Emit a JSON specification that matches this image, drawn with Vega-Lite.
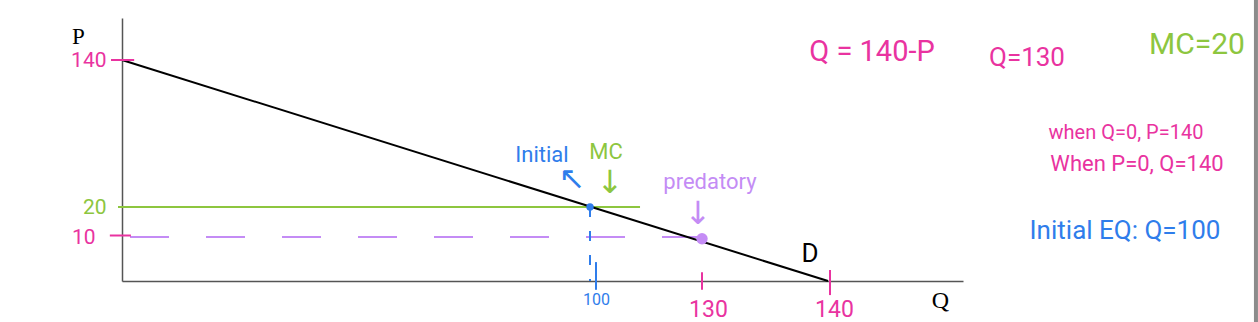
{
  "$schema": "https://vega.github.io/schema/vega-lite/v6.json",
  "width": 841,
  "height": 263,
  "autosize": {"type": "none"},
  "padding": {"left": 122, "top": 18, "right": 295, "bottom": 41},
  "background": "white",
  "config": {"view": {"stroke": null}},
  "datasets": {
    "demand": [{"Q": 0, "P": 140, "role": "curve"}, {"Q": 140, "P": 0, "role": "curve"}],
    "mc": [{"Q": 0, "P": 20, "role": "mc"}, {"Q": 113.4, "P": 20, "role": "mc"}],
    "pred": [{"Q": 0, "P": 10, "role": "predatory"}, {"Q": 130, "P": 10, "role": "predatory"}],
    "drop": [{"Q": 100, "P": 20, "role": "initial"}, {"Q": 100, "P": 0, "role": "initial"}],
    "eq": [{"Q": 100, "P": 20, "role": "initial"}, {"Q": 130, "P": 9.6, "role": "predatory"}],
    "frame": [{"Q": 171.7, "P": -15, "P2": 200, "role": "frame"}],
    "xticks": [
      {"Q": 101.6, "P": -2, "P2": 4.3, "role": "initial"},
      {"Q": 130, "P": -2, "P2": 2, "role": "given"},
      {"Q": 140.15, "P": -3.2, "P2": 2.5, "role": "given"}
    ],
    "yticks": [
      {"P": 140, "Q": -2.35, "Q2": 2.6, "role": "given"},
      {"P": 20, "Q": -0.85, "Q2": 1.3, "role": "mc"},
      {"P": 10.5, "Q": -2.6, "Q2": 1.9, "role": "given"}
    ],
    "notes": [
      {"Q": 143.26, "P": 146.5, "label": "Q = 140-P", "role": "given", "group": "headline"},
      {"Q": 154.74, "P": 141.6, "label": "Q=130", "role": "given", "group": "headline2"},
      {"Q": 167.33, "P": 152.1, "label": "MC=20", "role": "mc", "group": "headline3"},
      {"Q": 162.07, "P": 80.4, "label": "when Q=0, P=140", "role": "given", "group": "note"},
      {"Q": 162.89, "P": 55.1, "label": "When P=0, Q=140", "role": "given", "group": "note2"},
      {"Q": 162.0, "P": 12, "label": "Initial EQ: Q=100", "role": "initial", "group": "eqnote"},
      {"Q": 89.74, "P": 62.4, "label": "Initial", "role": "initial", "group": "label"},
      {"Q": 104.29, "P": 64.9, "label": "MC", "role": "mc", "group": "label"},
      {"Q": 130.63, "P": 40.4, "label": "predatory", "role": "predatory", "group": "label"},
      {"Q": 138.57, "P": 6.14, "label": "D", "role": "curve", "group": "curvelabel"},
      {"Q": 96.15, "P": 42.5, "label": "↖", "role": "initial", "group": "arrow"},
      {"Q": 105.36, "P": 39.5, "label": "↓", "role": "mc", "group": "arrow"},
      {"Q": 128.93, "P": 17.6, "label": "↓", "role": "predatory", "group": "arrow"}
    ]
  },
  "encoding": {
    "x": {
      "field": "Q",
      "type": "quantitative",
      "scale": {"domain": [0, 100, 130, 140, 150], "range": [0, 468, 580, 706, 841], "nice": false, "zero": false},
      "axis": {
        "values": [100, 130, 140],
        "grid": false,
        "ticks": false,
        "domainColor": "#555555",
        "domainWidth": 1.5,
        "labelFont": "Roboto",
        "labelColor": {"condition": {"test": "datum.value == 100", "value": "#2f7deb"}, "value": "#e933a0"},
        "labelFontSize": {"condition": {"test": "datum.value == 100", "value": 16}, "value": 23},
        "labelPadding": {"condition": {"test": "datum.value == 100", "value": 10}, "value": 17},
        "labelOffset": 6,
        "labelBaseline": "top",
        "title": "Q",
        "titleFont": "Liberation Serif",
        "titleFontSize": 24,
        "titleFontWeight": "normal",
        "titleColor": "#000000",
        "titleX": 818,
        "titleY": 19,
        "titleAlign": "center",
        "titleBaseline": "middle"
      }
    },
    "y": {
      "field": "P",
      "type": "quantitative",
      "scale": {"domain": [0, 10, 20, 140, 174], "range": [263, 219, 189, 42, 0], "nice": false, "zero": false},
      "axis": {
        "values": [10, 20, 140],
        "grid": false,
        "ticks": false,
        "domainColor": "#555555",
        "domainWidth": 1.5,
        "labelFont": "Roboto",
        "labelColor": {"condition": {"test": "datum.value == 20", "value": "#8dc63f"}, "value": "#e933a0"},
        "labelFontSize": 21,
        "labelPadding": {"condition": {"test": "datum.value == 10", "value": 27}, "value": 16},
        "labelBaseline": "middle",
        "title": "P",
        "titleAngle": 0,
        "titleFont": "Liberation Serif",
        "titleFontSize": 23,
        "titleFontWeight": "normal",
        "titleColor": "#000000",
        "titleX": -44,
        "titleY": 18,
        "titleAlign": "center",
        "titleBaseline": "middle"
      }
    },
    "color": {
      "field": "role",
      "type": "nominal",
      "scale": {"domain": ["given", "mc", "initial", "predatory", "curve", "frame"], "range": ["#e933a0", "#8dc63f", "#2f7deb", "#c48cf5", "#000000", "#8c8c8c"]},
      "legend": null
    }
  },
  "layer": [
    {"data": {"name": "pred"}, "mark": {"type": "line", "strokeWidth": 2, "strokeDash": [39, 37], "strokeDashOffset": -8}, "encoding": {}},
    {"data": {"name": "mc"}, "mark": {"type": "line", "strokeWidth": 2}, "encoding": {}},
    {"data": {"name": "drop"}, "mark": {"type": "line", "strokeWidth": 2, "strokeDash": [10, 14]}, "encoding": {}},
    {"data": {"name": "demand"}, "mark": {"type": "line", "strokeWidth": 2}, "encoding": {}},
    {"data": {"name": "xticks"}, "mark": {"type": "rule", "strokeWidth": 2}, "encoding": {"y2": {"field": "P2"}}},
    {"data": {"name": "yticks"}, "mark": {"type": "rule", "strokeWidth": 2}, "encoding": {"x2": {"field": "Q2"}}},
    {"data": {"name": "frame"}, "mark": {"type": "rule", "strokeWidth": 4}, "encoding": {"y2": {"field": "P2"}}},
    {"data": {"name": "eq"}, "transform": [{"filter": "datum.role == 'initial'"}], "mark": {"type": "point", "filled": true, "opacity": 1, "size": 55}, "encoding": {}},
    {"data": {"name": "eq"}, "transform": [{"filter": "datum.role == 'predatory'"}], "mark": {"type": "point", "filled": true, "opacity": 1, "size": 130}, "encoding": {}},
    {"data": {"name": "notes"}, "transform": [{"filter": "datum.group == 'headline'"}], "mark": {"type": "text", "font": "Roboto", "fontSize": 29, "align": "center", "baseline": "middle"}, "encoding": {"text": {"field": "label"}}},
    {"data": {"name": "notes"}, "transform": [{"filter": "datum.group == 'headline2'"}], "mark": {"type": "text", "font": "Roboto", "fontSize": 26, "align": "center", "baseline": "middle"}, "encoding": {"text": {"field": "label"}}},
    {"data": {"name": "notes"}, "transform": [{"filter": "datum.group == 'headline3'"}], "mark": {"type": "text", "font": "Roboto", "fontSize": 30, "align": "center", "baseline": "middle"}, "encoding": {"text": {"field": "label"}}},
    {"data": {"name": "notes"}, "transform": [{"filter": "datum.group == 'note'"}], "mark": {"type": "text", "font": "Roboto", "fontSize": 20, "align": "center", "baseline": "middle"}, "encoding": {"text": {"field": "label"}}},
    {"data": {"name": "notes"}, "transform": [{"filter": "datum.group == 'note2'"}], "mark": {"type": "text", "font": "Roboto", "fontSize": 22, "align": "center", "baseline": "middle"}, "encoding": {"text": {"field": "label"}}},
    {"data": {"name": "notes"}, "transform": [{"filter": "datum.group == 'eqnote'"}], "mark": {"type": "text", "font": "Roboto", "fontSize": 26, "align": "center", "baseline": "middle"}, "encoding": {"text": {"field": "label"}}},
    {"data": {"name": "notes"}, "transform": [{"filter": "datum.group == 'label'"}], "mark": {"type": "text", "font": "Roboto", "fontSize": 22, "align": "center", "baseline": "middle"}, "encoding": {"text": {"field": "label"}}},
    {"data": {"name": "notes"}, "transform": [{"filter": "datum.group == 'curvelabel'"}], "mark": {"type": "text", "font": "Roboto", "fontSize": 26, "align": "center", "baseline": "middle"}, "encoding": {"text": {"field": "label"}}},
    {"data": {"name": "notes"}, "transform": [{"filter": "datum.group == 'arrow'"}], "mark": {"type": "text", "font": "DejaVu Sans", "fontSize": 32, "align": "center", "baseline": "middle"}, "encoding": {"text": {"field": "label"}}}
  ]
}
